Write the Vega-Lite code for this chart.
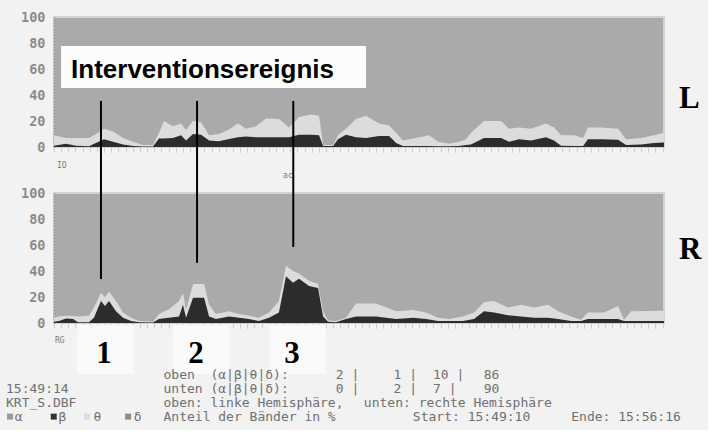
{
  "$schema": "https://vega.github.io/schema/vega-lite/v6.json",
  "background": "#f2f2f2",
  "padding": {"left": 5, "top": 9, "right": 5, "bottom": 5},
  "bounds": "flush",
  "spacing": 46,
  "datasets": {
    "top": [
      {"t":0,"light":9,"dark":1},{"t":8.4,"light":7,"dark":2.5},{"t":15.4,"light":7,"dark":1},{"t":24.4,"light":7,"dark":0.5},
      {"t":29.3,"light":10,"dark":3},{"t":34.9,"light":14,"dark":6},{"t":41.2,"light":12,"dark":4},{"t":48.2,"light":7,"dark":2},
      {"t":55.2,"light":4,"dark":0.8},{"t":62.2,"light":1.5,"dark":0.3},{"t":69.1,"light":1.5,"dark":0.3},{"t":73.3,"light":11,"dark":6.5},
      {"t":76.8,"light":20,"dark":6.5},{"t":83.1,"light":16,"dark":7},{"t":88.7,"light":18,"dark":9},{"t":92.2,"light":13,"dark":5},
      {"t":97.1,"light":20,"dark":10},{"t":102.7,"light":19,"dark":9.5},{"t":108.3,"light":9,"dark":5},{"t":115.2,"light":10,"dark":4.5},
      {"t":121.5,"light":13,"dark":6},{"t":128.5,"light":18,"dark":7.5},{"t":134.1,"light":14,"dark":8},{"t":141.1,"light":16,"dark":7.5},
      {"t":148.1,"light":22,"dark":7.5},{"t":157.1,"light":21.5,"dark":7.5},{"t":164.1,"light":15,"dark":7.5},{"t":171.1,"light":23,"dark":9.5},
      {"t":179.5,"light":25,"dark":9.5},{"t":185.1,"light":24,"dark":9},{"t":187.9,"light":1.5,"dark":0.8},{"t":194.9,"light":1.5,"dark":0.8},
      {"t":198.3,"light":9,"dark":6},{"t":203.9,"light":14,"dark":9.5},{"t":210.9,"light":21.5,"dark":7.5},{"t":217.9,"light":24,"dark":7},
      {"t":227,"light":18,"dark":8.5},{"t":234,"light":16.5,"dark":8.5},{"t":238.9,"light":11,"dark":3},{"t":243.7,"light":5,"dark":0.8},
      {"t":252.8,"light":7,"dark":0.8},{"t":261.9,"light":9,"dark":0.8},{"t":268.2,"light":4,"dark":0.5},{"t":275.9,"light":2.5,"dark":0.5},
      {"t":282.9,"light":4,"dark":0.8},{"t":287.7,"light":6,"dark":1.5},{"t":291.2,"light":11,"dark":2},{"t":300.3,"light":20,"dark":7},
      {"t":312.2,"light":20,"dark":7},{"t":317.8,"light":14,"dark":4},{"t":324.8,"light":15,"dark":6},{"t":333.1,"light":14,"dark":5},
      {"t":343.6,"light":18,"dark":7.5},{"t":349.2,"light":15,"dark":5},{"t":354.1,"light":9,"dark":1},{"t":363.2,"light":9,"dark":0.8},
      {"t":369.5,"light":7,"dark":0.8},{"t":372.9,"light":15,"dark":6},{"t":382,"light":15,"dark":6},{"t":393.9,"light":14,"dark":5.5},
      {"t":399.5,"light":6,"dark":1.5},{"t":410,"light":7,"dark":2},{"t":419.1,"light":9,"dark":3},{"t":426,"light":11,"dark":3.5}
    ],
    "bottom": [
      {"t":0,"light":4,"dark":1},{"t":3.5,"light":5,"dark":1.5},{"t":8.4,"light":5.5,"dark":3.5},{"t":13.3,"light":5.5,"dark":3},
      {"t":16.8,"light":5,"dark":0.5},{"t":24.4,"light":5.5,"dark":0.5},{"t":27.9,"light":12,"dark":4},{"t":32.8,"light":23,"dark":17},
      {"t":35.6,"light":20,"dark":13},{"t":38.4,"light":24,"dark":17},{"t":43.3,"light":17,"dark":9},{"t":48.2,"light":8,"dark":4},
      {"t":53.8,"light":4,"dark":1.5},{"t":59.4,"light":1.5,"dark":0.5},{"t":69.1,"light":1,"dark":0.3},{"t":73.3,"light":7,"dark":3},
      {"t":80.3,"light":10.5,"dark":4},{"t":87.3,"light":17,"dark":5},{"t":90.1,"light":23,"dark":14},{"t":92.2,"light":10,"dark":4},
      {"t":97.1,"light":30,"dark":19.5},{"t":104.8,"light":30,"dark":19.5},{"t":108.3,"light":14,"dark":5},{"t":113.1,"light":7,"dark":3},
      {"t":122.2,"light":9,"dark":5},{"t":129.2,"light":7,"dark":4},{"t":136.2,"light":5.5,"dark":3},{"t":143.2,"light":4,"dark":1.5},
      {"t":150.2,"light":8,"dark":4},{"t":157.1,"light":17,"dark":8},{"t":162,"light":44,"dark":36},{"t":166.9,"light":40,"dark":31},
      {"t":171.1,"light":38,"dark":34},{"t":178.1,"light":32.5,"dark":28.5},{"t":184.4,"light":30,"dark":27},{"t":187.9,"light":9,"dark":5},
      {"t":191.4,"light":2,"dark":1},{"t":196.9,"light":1.5,"dark":0.5},{"t":203.9,"light":4,"dark":3},{"t":210.9,"light":15,"dark":5},
      {"t":224.9,"light":15,"dark":5},{"t":238.9,"light":9,"dark":3},{"t":250.7,"light":10,"dark":4},{"t":259.8,"light":8,"dark":3},
      {"t":268.2,"light":4,"dark":1.5},{"t":275.9,"light":3,"dark":1.5},{"t":285.6,"light":5,"dark":1.5},{"t":293.3,"light":8,"dark":3},
      {"t":300.3,"light":16,"dark":9},{"t":307.3,"light":17,"dark":8},{"t":317.1,"light":12,"dark":6},{"t":326.2,"light":14,"dark":5},
      {"t":335.2,"light":12,"dark":4},{"t":345,"light":14,"dark":4},{"t":352,"light":9,"dark":3},{"t":361.1,"light":5,"dark":1.5},
      {"t":368.1,"light":2.5,"dark":1.5},{"t":372.9,"light":8,"dark":3},{"t":384.1,"light":8,"dark":3},{"t":393.9,"light":13,"dark":3},
      {"t":398.1,"light":2.5,"dark":1.5},{"t":403,"light":9,"dark":1.5},{"t":426,"light":9.5,"dark":1.5}
    ],
    "intervBox": [{"x1":4.9,"x2":217.9,"y1":45.4,"y2":77.7}],
    "intervLabel": [{"t":11.9,"v":53,"label":"Interventionsereignis"}],
    "sideTop": [{"t":436.5,"v":30,"label":"L"}],
    "sideBottom": [{"t":436.5,"v":49.2,"label":"R"}],
    "tinyTop": [{"t":2.1,"v":-14.6,"label":"IO"},{"t":160,"v":-22.3,"label":"ac"}],
    "tinyBottom": [{"t":0.7,"v":-14,"label":"RG"}],
    "rules": [
      {"t":32.8,"v1":170.8,"v2":33.8},
      {"t":99.9,"v1":170.8,"v2":46.2},
      {"t":167.1,"v1":170.8,"v2":58.5}
    ],
    "numBoxes": [
      {"x1":16.1,"x2":55.9,"y1":-1.5,"y2":-39.2},
      {"x1":83.1,"x2":122.2,"y1":-1.5,"y2":-39.2},
      {"x1":150.2,"x2":190,"y1":-1.5,"y2":-39.2}
    ],
    "numLabels": [
      {"t":34.9,"v":-30.8,"label":"1"},
      {"t":99.2,"v":-30.8,"label":"2"},
      {"t":166.2,"v":-30.8,"label":"3"}
    ],
    "footer": [
      {"c":0,"r":2,"s":"15:49:14"},
      {"c":0,"r":3,"s":"KRT_S.DBF"},
      {"c":18,"r":1,"s":"oben\u00a0\u00a0(α|β|θ|δ):"},
      {"c":37.7,"r":1,"s":"2\u00a0|"},
      {"c":44.3,"r":1,"s":"1\u00a0|"},
      {"c":48.8,"r":1,"s":"10\u00a0|"},
      {"c":54.6,"r":1,"s":"86"},
      {"c":18,"r":2,"s":"unten\u00a0(α|β|θ|δ):"},
      {"c":37.7,"r":2,"s":"0\u00a0|"},
      {"c":44.3,"r":2,"s":"2\u00a0|"},
      {"c":48.8,"r":2,"s":"\u00a07\u00a0|"},
      {"c":54.6,"r":2,"s":"90"},
      {"c":18,"r":3,"s":"oben:\u00a0linke\u00a0Hemisphäre,"},
      {"c":40.9,"r":3,"s":"unten:\u00a0rechte\u00a0Hemisphäre"},
      {"c":18,"r":4,"s":"Anteil\u00a0der\u00a0Bänder\u00a0in\u00a0%"},
      {"c":46.5,"r":4,"s":"Start:\u00a015:49:10"},
      {"c":64.6,"r":4,"s":"Ende:\u00a015:56:16"}
    ],
    "legend": [
      {"c":0,"lc":1,"r":4,"band":"α"},
      {"c":5,"lc":6,"r":4,"band":"β"},
      {"c":8.8,"lc":10,"r":4,"band":"θ"},
      {"c":13.5,"lc":14.6,"r":4,"band":"δ"}
    ]
  },
  "config": {
    "view": {"stroke": null},
    "axisY": {
      "grid": false, "ticks": false, "tickSize": 0, "labelPadding": 9,
      "labelFont": "DejaVu Sans Mono", "labelFontSize": 13.5, "labelFontWeight": "bold", "labelColor": "#8c8c8c",
      "domainColor": "#9c9c9c", "domainWidth": 2, "domainDash": [2, 1], "values": [0, 20, 40, 60, 80, 100]
    },
    "axisX": {
      "grid": false, "labels": false, "domain": false, "tickColor": "#cdcdcd", "tickSize": 5, "tickCount": 85
    }
  },
  "vconcat": [
    {
      "width": 610, "height": 130,
      "view": {"fill": "#aaaaaa", "stroke": "#d2d2d2", "strokeWidth": 2},
      "layer": [
        {
          "data": {"name": "top"},
          "mark": {"type": "area", "color": "#dcdcdc"},
          "encoding": {
            "x": {"field": "t", "type": "quantitative", "title": null, "scale": {"domain": [0, 426], "nice": false}, "axis": {"title": null}},
            "y": {"field": "light", "type": "quantitative", "title": null, "scale": {"domain": [0, 100], "nice": false}, "axis": {"title": null}}
          }
        },
        {
          "data": {"name": "top"},
          "mark": {"type": "area", "color": "#2c2c2c"},
          "encoding": {
            "x": {"field": "t", "type": "quantitative", "title": null},
            "y": {"field": "dark", "type": "quantitative", "title": null}
          }
        },
        {
          "data": {"name": "intervBox"},
          "mark": {"type": "rect", "color": "#fcfcfc"},
          "encoding": {
            "x": {"field": "x1", "type": "quantitative", "title": null},
            "x2": {"field": "x2"},
            "y": {"field": "y1", "type": "quantitative", "title": null},
            "y2": {"field": "y2"}
          }
        },
        {
          "data": {"name": "intervLabel"},
          "mark": {"type": "text", "align": "left", "baseline": "alphabetic", "font": "Liberation Sans", "fontWeight": "bold", "fontSize": 26, "color": "#000000"},
          "encoding": {
            "x": {"field": "t", "type": "quantitative", "title": null},
            "y": {"field": "v", "type": "quantitative", "title": null},
            "text": {"field": "label"}
          }
        },
        {
          "data": {"name": "sideTop"},
          "mark": {"type": "text", "align": "left", "baseline": "alphabetic", "font": "Liberation Serif", "fontWeight": "bold", "fontSize": 31, "color": "#000000"},
          "encoding": {
            "x": {"field": "t", "type": "quantitative", "title": null},
            "y": {"field": "v", "type": "quantitative", "title": null},
            "text": {"field": "label"}
          }
        },
        {
          "data": {"name": "tinyTop"},
          "mark": {"type": "text", "align": "left", "baseline": "middle", "font": "DejaVu Sans Mono", "fontSize": 8, "color": "#7a7a7a"},
          "encoding": {
            "x": {"field": "t", "type": "quantitative", "title": null},
            "y": {"field": "v", "type": "quantitative", "title": null},
            "text": {"field": "label"}
          }
        }
      ]
    },
    {
      "width": 610, "height": 130,
      "view": {"fill": "#aaaaaa", "stroke": "#d2d2d2", "strokeWidth": 2},
      "layer": [
        {
          "data": {"name": "bottom"},
          "mark": {"type": "area", "color": "#dcdcdc"},
          "encoding": {
            "x": {"field": "t", "type": "quantitative", "title": null, "scale": {"domain": [0, 426], "nice": false}, "axis": {"title": null}},
            "y": {"field": "light", "type": "quantitative", "title": null, "scale": {"domain": [0, 100], "nice": false}, "axis": {"title": null}}
          }
        },
        {
          "data": {"name": "bottom"},
          "mark": {"type": "area", "color": "#2c2c2c"},
          "encoding": {
            "x": {"field": "t", "type": "quantitative", "title": null},
            "y": {"field": "dark", "type": "quantitative", "title": null}
          }
        },
        {
          "data": {"name": "numBoxes"},
          "mark": {"type": "rect", "color": "#fafafa"},
          "encoding": {
            "x": {"field": "x1", "type": "quantitative", "title": null},
            "x2": {"field": "x2"},
            "y": {"field": "y1", "type": "quantitative", "title": null},
            "y2": {"field": "y2"}
          }
        },
        {
          "data": {"name": "rules"},
          "mark": {"type": "rule", "color": "#000000", "strokeWidth": 2},
          "encoding": {
            "x": {"field": "t", "type": "quantitative", "title": null},
            "y": {"field": "v1", "type": "quantitative", "title": null},
            "y2": {"field": "v2"}
          }
        },
        {
          "data": {"name": "numLabels"},
          "mark": {"type": "text", "align": "center", "baseline": "alphabetic", "font": "Liberation Serif", "fontWeight": "bold", "fontSize": 31, "color": "#000000"},
          "encoding": {
            "x": {"field": "t", "type": "quantitative", "title": null},
            "y": {"field": "v", "type": "quantitative", "title": null},
            "text": {"field": "label"}
          }
        },
        {
          "data": {"name": "sideBottom"},
          "mark": {"type": "text", "align": "left", "baseline": "alphabetic", "font": "Liberation Serif", "fontWeight": "bold", "fontSize": 31, "color": "#000000"},
          "encoding": {
            "x": {"field": "t", "type": "quantitative", "title": null},
            "y": {"field": "v", "type": "quantitative", "title": null},
            "text": {"field": "label"}
          }
        },
        {
          "data": {"name": "tinyBottom"},
          "mark": {"type": "text", "align": "left", "baseline": "middle", "font": "DejaVu Sans Mono", "fontSize": 8, "color": "#7a7a7a"},
          "encoding": {
            "x": {"field": "t", "type": "quantitative", "title": null},
            "y": {"field": "v", "type": "quantitative", "title": null},
            "text": {"field": "label"}
          }
        }
      ]
    },
    {
      "width": 610, "height": 56,
      "layer": [
        {
          "data": {"name": "footer"},
          "mark": {"type": "text", "align": "left", "baseline": "middle", "font": "DejaVu Sans Mono", "fontSize": 13, "color": "#707070"},
          "encoding": {
            "x": {"field": "c", "type": "quantitative", "scale": {"domain": [5.486, 75.2], "nice": false, "zero": false}, "axis": null},
            "y": {"field": "r", "type": "quantitative", "scale": {"domain": [0.6, 4.6], "nice": false, "zero": false, "reverse": true}, "axis": null},
            "text": {"field": "s"}
          }
        },
        {
          "data": {"name": "legend"},
          "mark": {"type": "square", "filled": true, "size": 36, "opacity": 1, "xOffset": 4},
          "encoding": {
            "x": {"field": "c", "type": "quantitative", "axis": null},
            "y": {"field": "r", "type": "quantitative", "axis": null},
            "color": {"field": "band", "type": "nominal", "scale": {"domain": ["α", "β", "θ", "δ"], "range": ["#9a9a9a", "#333333", "#dcdcdc", "#8c8c8c"]}, "legend": null}
          }
        },
        {
          "data": {"name": "legend"},
          "mark": {"type": "text", "align": "left", "baseline": "middle", "font": "DejaVu Sans Mono", "fontSize": 13, "color": "#707070"},
          "encoding": {
            "x": {"field": "lc", "type": "quantitative", "axis": null},
            "y": {"field": "r", "type": "quantitative", "axis": null},
            "text": {"field": "band"}
          }
        }
      ]
    }
  ]
}
